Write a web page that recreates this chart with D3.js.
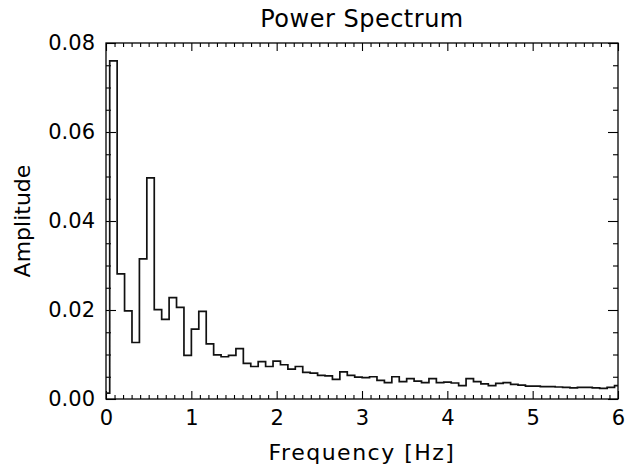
<!DOCTYPE html>
<html>
<head>
<meta charset="utf-8">
<script src="https://cdn.jsdelivr.net/npm/d3@7"></script>
<style>
  html, body { margin: 0; padding: 0; background: #fff; }
  svg { display: block; }
  text { font-family: "DejaVu Sans", sans-serif; fill: #000; }
</style>
</head>
<body>
<svg id="chart" width="638" height="467"></svg>
<script>
// ---- data ----
const title = "Power Spectrum";
const xLabel = "Frequency [Hz]";
const yLabel = "Amplitude";

const frequency = [
  0.000, 0.087, 0.174, 0.261, 0.348, 0.435, 0.522, 0.609, 0.696, 0.783,
  0.870, 0.957, 1.044, 1.131, 1.218, 1.305, 1.392, 1.479, 1.566, 1.653,
  1.740, 1.827, 1.914, 2.001, 2.088, 2.175, 2.262, 2.349, 2.436, 2.523,
  2.610, 2.697, 2.784, 2.871, 2.958, 3.045, 3.132, 3.219, 3.306, 3.393,
  3.480, 3.567, 3.654, 3.741, 3.828, 3.915, 4.002, 4.089, 4.176, 4.263,
  4.350, 4.437, 4.524, 4.611, 4.698, 4.785, 4.872, 4.959, 5.046, 5.133,
  5.220, 5.307, 5.394, 5.481, 5.568, 5.655, 5.742, 5.829, 5.916, 6.003
];

const amplitude = [
  0.0013, 0.0760, 0.0281, 0.0198, 0.0127, 0.0315, 0.0497, 0.0201, 0.0179, 0.0228,
  0.0206, 0.0098, 0.0157, 0.0197, 0.0124, 0.0099, 0.0095, 0.0098, 0.0113, 0.0080,
  0.0073, 0.0084, 0.0073, 0.0085, 0.0077, 0.0067, 0.0073, 0.0060, 0.0058, 0.0053,
  0.0052, 0.0044, 0.0061, 0.0053, 0.0049, 0.0048, 0.0050, 0.0042, 0.0037, 0.0050,
  0.0039, 0.0046, 0.0040, 0.0037, 0.0046, 0.0037, 0.0038, 0.0036, 0.0030, 0.0046,
  0.0039, 0.0034, 0.0030, 0.0035, 0.0037, 0.0033, 0.0031, 0.0029, 0.0029, 0.0028,
  0.0028, 0.0027, 0.0026, 0.0025, 0.0026, 0.0026, 0.0025, 0.0024, 0.0026, 0.0030
];

const xDomain = [0, 6];
const yDomain = [0, 0.08];
const xMajorTicks = [0, 1, 2, 3, 4, 5, 6];
const xTickLabels = ["0", "1", "2", "3", "4", "5", "6"];
const yMajorTicks = [0, 0.02, 0.04, 0.06, 0.08];
const yTickLabels = ["0.00", "0.02", "0.04", "0.06", "0.08"];
const xMinorStep = 0.1;
const yMinorStep = 0.005;

// ---- layout ----
const svg = d3.select("#chart");
const W = 638, H = 467;
const margin = { left: 106, top: 43, right: 20, bottom: 68 };
const pw = W - margin.left - margin.right;   // 512
const ph = H - margin.top - margin.bottom;   // 356

const x = d3.scaleLinear().domain(xDomain).range([0, pw]);
const y = d3.scaleLinear().domain(yDomain).range([ph, 0]);

const xMinor = d3.range(xDomain[0], xDomain[1] + 1e-9, xMinorStep)
  .filter(v => !xMajorTicks.some(m => Math.abs(m - v) < 1e-6));
const yMinor = d3.range(yDomain[0], yDomain[1] + 1e-12, yMinorStep)
  .filter(v => !yMajorTicks.some(m => Math.abs(m - v) < 1e-9));

const g = svg.append("g").attr("transform", `translate(${margin.left},${margin.top})`);

svg.append("defs").append("clipPath").attr("id", "plotclip")
  .append("rect").attr("x", 0).attr("y", 0).attr("width", pw).attr("height", ph);

const FS_TICK = 21;
const FS_LAB = 22;

function styleAxis(sel) {
  sel.select(".domain").remove();
  sel.selectAll(".tick line").attr("stroke", "#000").attr("stroke-width", 1.1);
  sel.selectAll(".tick text").style("font-size", FS_TICK + "px")
     .style("font-family", '"DejaVu Sans", sans-serif').attr("fill", "#000");
}

// bottom axis (major with labels, minor without)
g.append("g").attr("transform", `translate(0,${ph})`)
  .call(d3.axisBottom(x).tickValues(xMajorTicks).tickSize(-8).tickPadding(11)
        .tickFormat((d, i) => xTickLabels[i]))
  .call(styleAxis);
g.append("g").attr("transform", `translate(0,${ph})`)
  .call(d3.axisBottom(x).tickValues(xMinor).tickSize(-4).tickFormat(""))
  .call(styleAxis);
// top axis
g.append("g")
  .call(d3.axisTop(x).tickValues(xMajorTicks).tickSize(-8).tickFormat(""))
  .call(styleAxis);
g.append("g")
  .call(d3.axisTop(x).tickValues(xMinor).tickSize(-4).tickFormat(""))
  .call(styleAxis);
// left axis
g.append("g")
  .call(d3.axisLeft(y).tickValues(yMajorTicks).tickSize(-10).tickPadding(11)
        .tickFormat((d, i) => yTickLabels[i]))
  .call(styleAxis);
g.append("g")
  .call(d3.axisLeft(y).tickValues(yMinor).tickSize(-5).tickFormat(""))
  .call(styleAxis);
// right axis
g.append("g").attr("transform", `translate(${pw},0)`)
  .call(d3.axisRight(y).tickValues(yMajorTicks).tickSize(-10).tickFormat(""))
  .call(styleAxis);
g.append("g").attr("transform", `translate(${pw},0)`)
  .call(d3.axisRight(y).tickValues(yMinor).tickSize(-5).tickFormat(""))
  .call(styleAxis);

// frame
g.append("rect").attr("x", 0).attr("y", 0).attr("width", pw).attr("height", ph)
  .attr("fill", "none").attr("stroke", "#000").attr("stroke-width", 1.3);

// step (histogram mode) line
const data = frequency.map((f, i) => ({ f, a: amplitude[i] }));
const line = d3.line().x(d => x(d.f)).y(d => y(d.a)).curve(d3.curveStep);
g.append("path").datum(data)
  .attr("clip-path", "url(#plotclip)")
  .attr("fill", "none").attr("stroke", "#111").attr("stroke-width", 1.7)
  .attr("d", line);

// titles
svg.append("text").attr("x", margin.left + pw / 2).attr("y", 27)
  .attr("text-anchor", "middle").style("font-size", "24px")
  .style("letter-spacing", "0.5px").text(title);
svg.append("text").attr("x", margin.left + pw / 2).attr("y", 460)
  .attr("text-anchor", "middle").style("font-size", FS_LAB + "px")
  .style("letter-spacing", "1.5px").text(xLabel);
svg.append("text")
  .attr("transform", `translate(30,${margin.top + ph / 2}) rotate(-90)`)
  .attr("text-anchor", "middle").style("font-size", FS_LAB + "px").text(yLabel);
</script>
</body>
</html>
